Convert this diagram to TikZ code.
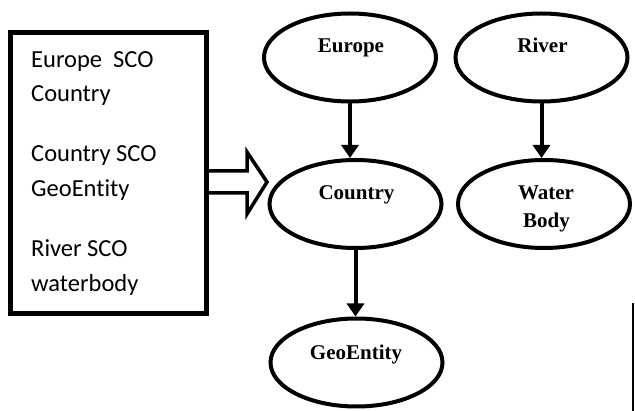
\documentclass[tikz,border=0pt]{standalone}
\usepackage{fontspec}
\setmainfont{Liberation Serif}
\newfontfamily\boxfont[Ligatures={NoCommon}]{Carlito}
\usetikzlibrary{arrows.meta,shapes.geometric}
\tikzset{
  ell/.style={draw, line width=4pt, ellipse, minimum width=172pt, minimum height=88pt},
  lbl/.style={anchor=base, font=\fontsize{21}{23}\selectfont\bfseries, inner sep=0pt},
  boxtxt/.style={anchor=base west, font=\boxfont\fontsize{24.5}{27}\selectfont, inner sep=0pt},
  conn/.style={line width=4pt, -{Triangle[width=17pt,length=13pt]}},
  hollow/.style={line width=3.5pt, line join=miter},
}
\begin{document}
\begin{tikzpicture}[x=1pt,y=-1pt]
\useasboundingbox (0,0) rectangle (635,411);
% left box
\node[draw, line width=4.5pt, minimum width=196pt, minimum height=281pt, inner sep=0pt] (box) at (108.5,173) {};
\node[boxtxt] (t1) at (31,68) {Europe\ \ SCO};
\node[boxtxt] (t2) at (31,102) {Country};
\node[boxtxt] (t3) at (31,162) {Country SCO};
\node[boxtxt] (t4) at (31,197) {GeoEntity};
\node[boxtxt] (t5) at (31,257) {River SCO};
\node[boxtxt] (t6) at (31,292) {waterbody};
% ellipses
\node[ell] (europe) at (350,57.5) {};
\node[ell] (river) at (541.5,57.5) {};
\node[ell] (country) at (355.5,204) {};
\node[ell] (water) at (544,204) {};
\node[ell] (geo) at (356.5,362.5) {};
\node[lbl] (le) at (351,53) {Europe};
\node[lbl] (lr) at (542.5,53) {River};
\node[lbl] (lc) at (356.5,200) {Country};
\node[lbl] (lw1) at (546,200) {Water};
\node[lbl] (lw2) at (546.5,228) {Body};
\node[lbl] (lg) at (356,360) {GeoEntity};
% connectors
\draw[conn] (europe.south) -- (europe.south |- country.north);
\draw[conn] (river.south) -- (river.south |- water.north);
\draw[conn] (country.south) -- (country.south |- geo.north);
% hollow arrow
\coordinate (ha) at (box.east |- 0,182);
\draw[hollow] ([yshift=11pt]ha) -- (247,171) -- (247,152) -- (267,182) -- (247,214) -- (247,193) -- ([yshift=-11pt]ha);
% stray line at right
\draw[line width=2pt] (633,303) -- (633,411);
\end{tikzpicture}
\end{document}
